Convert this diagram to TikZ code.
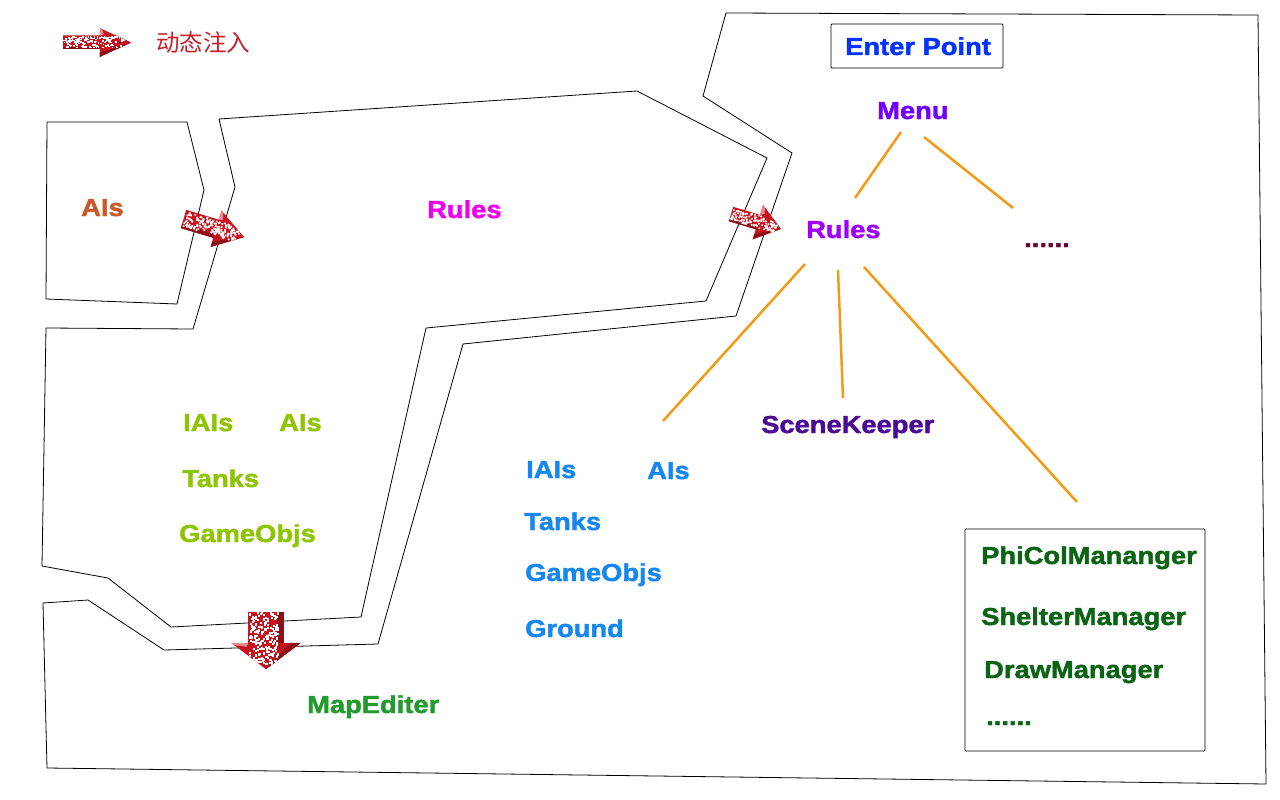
\documentclass[tikz,border=0pt]{standalone}
\usepackage{fontspec}
\setmainfont{Liberation Sans}[BoldFeatures={FakeBold=1.7,FakeStretch=1.115}]
\newfontfamily\cjk{Noto Sans CJK SC}
\definecolor{arrowred}{HTML}{C8141E}
\definecolor{arrowdark}{HTML}{8E0F16}
\definecolor{arrowpale}{HTML}{E88A8E}
\definecolor{cEnter}{HTML}{0033FF}
\definecolor{cMenu}{HTML}{7300FF}
\definecolor{cRules}{HTML}{A000FF}
\definecolor{cDots}{HTML}{660033}
\definecolor{cScene}{HTML}{4B0A96}
\definecolor{cAis}{HTML}{C85A28}
\definecolor{cPink}{HTML}{F000F0}
\definecolor{cLime}{HTML}{8FC400}
\definecolor{cBlue}{HTML}{1487F0}
\definecolor{cMap}{HTML}{229A2E}
\definecolor{cDark}{HTML}{0A6414}
\definecolor{cLink}{HTML}{F59A14}
\definecolor{cLegend}{HTML}{C8202A}
\newcommand{\speckledarrow}[6]{% x,y (tail centre), rotation, length, shaft half, head half
\begin{scope}[shift={(#1,#2)},rotate=#3]
\pgfmathsetmacro{\al}{#4}\pgfmathsetmacro{\as}{#5}\pgfmathsetmacro{\ah}{#6}
\pgfmathsetmacro{\hb}{\al*0.54}
\pgfmathsetmacro{\ds}{1.2+\as*0.05}
\pgfmathtruncatemacro{\nd}{0.55*\al*\as*1.6/(\ds*\ds)}
\begin{scope}
\clip (0,-\as) -- (\hb,-\as) -- (\hb,-\ah) -- (\al,0) -- (\hb,\ah) -- (\hb,\as) -- (0,\as) -- cycle;
\fill[arrowred] (0,-\as) rectangle (\al,\as);
\fill[arrowred] (\hb,-\ah) rectangle (\al,\ah);
\fill[arrowdark] (0,\as*0.6) rectangle (\hb,\as);
\fill[arrowdark] (\hb,\ah*0.7) -- (\al,0) -- (\hb,\ah) -- cycle;
\fill[arrowpale] (\hb,-\ah) -- (\hb+2,-\ah) -- (\hb+4,-\ah*0.55) -- (\hb,-\as) -- cycle;
\pgfmathsetseed{#1}
\foreach \i in {1,...,\nd}{
\pgfmathsetmacro{\dx}{rnd*\al*0.9}
\pgfmathsetmacro{\dy}{(rnd-0.6)*1.6*\as}
\fill[white] (\dx,\dy) rectangle +(\ds,\ds);
}
\end{scope}
\end{scope}}
\tikzset{
 region/.style={draw=black,line width=0.8pt,fill=none},
 lab/.style={font=\bfseries\fontsize{24.5}{28}\selectfont,inner sep=0pt,anchor=base west},
 dotlab/.style={lab},
 link/.style={draw=cLink,line width=2.5pt},
 labbox/.style={draw=black,line width=0.8pt,rounded corners=1pt}
}
\begin{document}
\begin{tikzpicture}[x=1pt,y=-1pt]
\useasboundingbox (0,0) rectangle (1280,800);
\fill[white] (0,0) rectangle (1280,800);
% regions
\draw[region] (47,122) -- (187,122) -- (204,190) -- (177,304) -- (46,299) -- cycle;
\draw[region] (219,119) -- (637,91) -- (767,158) -- (706,301) -- (426,328) -- (361,617) -- (171,627) -- (108,578) -- (42,566) -- (46,328) -- (193,329) -- (235,187) -- cycle;
\draw[region] (726,13) -- (1258,15) -- (1266,784) -- (47,768) -- (43,603) -- (88,600) -- (164,650) -- (378,644) -- (463,344) -- (736,316) -- (792,153) -- (703,96) -- cycle;
% boxes
\draw[labbox] (831,24) rectangle (1003,68);
\draw[labbox] (965,529) rectangle (1205,751);
% arrows
\speckledarrow{63}{42.5}{0}{68}{7}{14.5}
\speckledarrow{183.5}{219}{-16.7}{63}{9.5}{19}
\speckledarrow{731}{214}{-16.7}{52}{7.5}{18}
\speckledarrow{266}{612}{-90,yscale=-1}{57}{18}{35}
% labels
\node[text=cLegend,font=\cjk\fontsize{23.5}{26}\selectfont,inner sep=0pt,anchor=west] (legend) at (156,43) {动态注入};
\node[lab,text=cEnter] (enter) at (845,55) {Enter Point};
\node[lab,text=cMenu] (menu) at (877,119) {Menu};
\node[lab,text=cRules] (rules) at (806,238) {Rules};
\node[dotlab,text=cDots] (dots1) at (1024,247) {......};
\node[lab,text=cScene] (scene) at (761,433) {SceneKeeper};
\node[lab,text=cAis] (ais1) at (81,216) {AIs};
\node[lab,text=cPink] (rules2) at (427,218) {Rules};
\node[lab,text=cLime] (iais1) at (183,431) {IAIs};
\node[lab,text=cLime] (ais2) at (279,431) {AIs};
\node[lab,text=cLime] (tanks1) at (182,487) {Tanks};
\node[lab,text=cLime] (objs1) at (179,542) {GameObjs};
\node[lab,text=cBlue] (iais2) at (526,478) {IAIs};
\node[lab,text=cBlue] (ais3) at (647,479) {AIs};
\node[lab,text=cBlue] (tanks2) at (524,530) {Tanks};
\node[lab,text=cBlue] (objs2) at (525,581) {GameObjs};
\node[lab,text=cBlue] (ground) at (525,637) {Ground};
\node[lab,text=cMap] (map) at (307,713) {MapEditer};
\node[lab,text=cDark] (phi) at (981,564) {PhiColMananger};
\node[lab,text=cDark] (shelter) at (981,625) {ShelterManager};
\node[lab,text=cDark] (drawm) at (984,678) {DrawManager};
\node[dotlab,text=cDark] (dots2) at (986,725) {......};
% connector ends
\coordinate (m1) at (901,132); \coordinate (r0) at (855,198);
\coordinate (m2) at (924,137); \coordinate (d1) at (1013,208);
\coordinate (r1) at (805,264); \coordinate (b1) at (663,421);
\coordinate (r2) at (838,270); \coordinate (s1) at (843,398);
\coordinate (r3) at (864,267); \coordinate (p1) at (1077,502);
\draw[link] (m1) -- (r0);
\draw[link] (m2) -- (d1);
\draw[link] (r1) -- (b1);
\draw[link] (r2) -- (s1);
\draw[link] (r3) -- (p1);
\end{tikzpicture}
\end{document}
